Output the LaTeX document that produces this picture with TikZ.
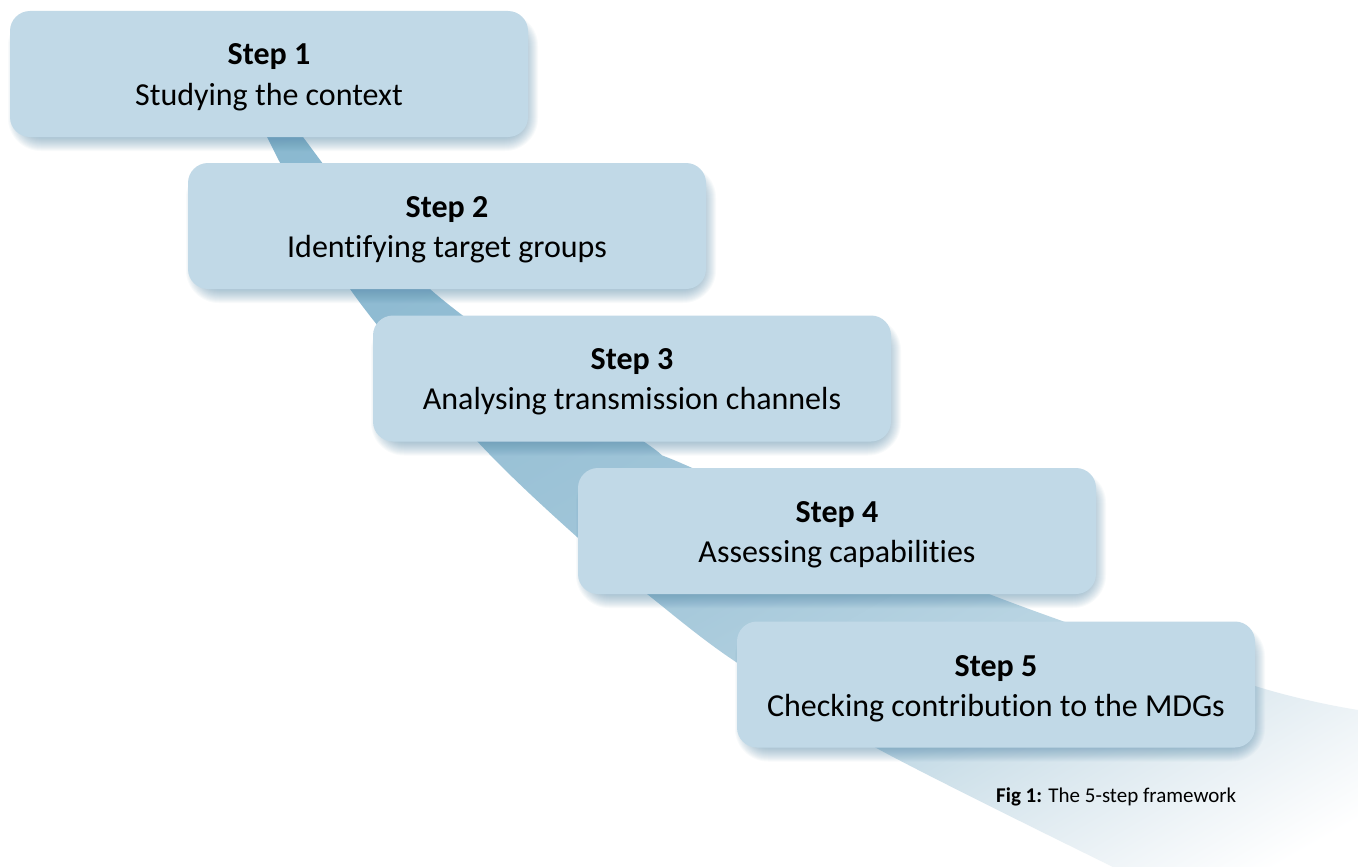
\documentclass[tikz,border=0pt]{standalone}
\usepackage{fontspec}
\setmainfont{Carlito}[Ligatures=NoCommon]
\definecolor{boxfill}{HTML}{C1D9E7}
\definecolor{shadowc}{HTML}{4F86A8}
\definecolor{rA}{HTML}{8AB8D0}
\definecolor{rB}{HTML}{8FBBD2}
\definecolor{rC}{HTML}{A5C8DA}
\definecolor{rD}{HTML}{BAD5E3}
\definecolor{rE}{HTML}{CFE1EA}
\definecolor{rF}{HTML}{E0EBF1}
\definecolor{rG}{HTML}{F0F5F8}
\pgfdeclarehorizontalshading{ribbonshade}{100bp}{color(0bp)=(rA); color(25bp)=(rA); color(34bp)=(rB); color(50bp)=(rC); color(58.6bp)=(rD); color(61.8bp)=(rE); color(65bp)=(rF); color(68.2bp)=(rG); color(71.4bp)=(white); color(100bp)=(white)}
\tikzset{
  stepbox/.style={fill=boxfill, rounded corners=20pt, minimum width=518pt, minimum height=126pt, inner sep=0pt},
  shadowlayer/.style={fill=shadowc, fill opacity=0.04},
  steptitle/.style={anchor=base, inner sep=0pt, font=\fontsize{32}{38}\selectfont\bfseries},
  stepdesc/.style={anchor=base, inner sep=0pt, font=\fontsize{32}{38}\selectfont},
  captxt/.style={anchor=base west, inner sep=0pt, font=\fontsize{21}{25}\selectfont}
}
\newcommand\mkshadow[2]{%
  \foreach \k in {0,...,13}{%
    \fill[shadowlayer, rounded corners={20pt+\k pt}] ({#1-259+4-\k+7},{#2-63+8-\k+7}) rectangle ({#1+259+4+\k-7},{#2+63+8+\k-7});
  }}
\begin{document}
\begin{tikzpicture}[x=1pt,y=-1pt]
\useasboundingbox (0,0) rectangle (1358,867);
\fill[white] (0,0) rectangle (1358,867);
% ribbon
\begin{scope}
\clip plot[smooth] coordinates {(255,105) (267,137) (350,289) (477,441) (577,537) (647,594) (733,660) (880,750) (1113,867)}
  -- (1113,880) -- (1370,880) -- (1370,712)
  -- plot[smooth] coordinates {(1358,710) (1255,686) (989,594) (690,467) (643,441) (430,289) (303,137) (292,105)} -- cycle;
\begin{scope}[transform canvas={shift={(258,115)},rotate=-60}]
\shade[shading=ribbonshade] (0,-1000) rectangle (1250,250);
\end{scope}
\end{scope}
% boxes
\mkshadow{269}{74}
\node[stepbox] (b1) at (269,74) {};
\node[steptitle] (t1) at (269,65) {Step 1};
\node[stepdesc] (d1) at (269,105) {Studying the context};
\mkshadow{447}{226}
\node[stepbox] (b2) at (447,226) {};
\node[steptitle] (t2) at (447,217) {Step 2};
\node[stepdesc] (d2) at (447,257) {Identifying target groups};
\mkshadow{632}{378.5}
\node[stepbox] (b3) at (632,378.5) {};
\node[steptitle] (t3) at (632,369) {Step 3};
\node[stepdesc] (d3) at (632,409) {Analysing transmission channels};
\mkshadow{837}{531}
\node[stepbox] (b4) at (837,531) {};
\node[steptitle] (t4) at (837,522) {Step 4};
\node[stepdesc] (d4) at (837,562) {Assessing capabilities};
\mkshadow{996}{684.5}
\node[stepbox] (b5) at (996,684.5) {};
\node[steptitle] (t5) at (996,676) {Step 5};
\node[stepdesc] (d5) at (996,716) {Checking contribution to the MDGs};
\node[captxt] (cap) at (996,802) {\textbf{Fig 1:} The 5-step framework};
\end{tikzpicture}
\end{document}
